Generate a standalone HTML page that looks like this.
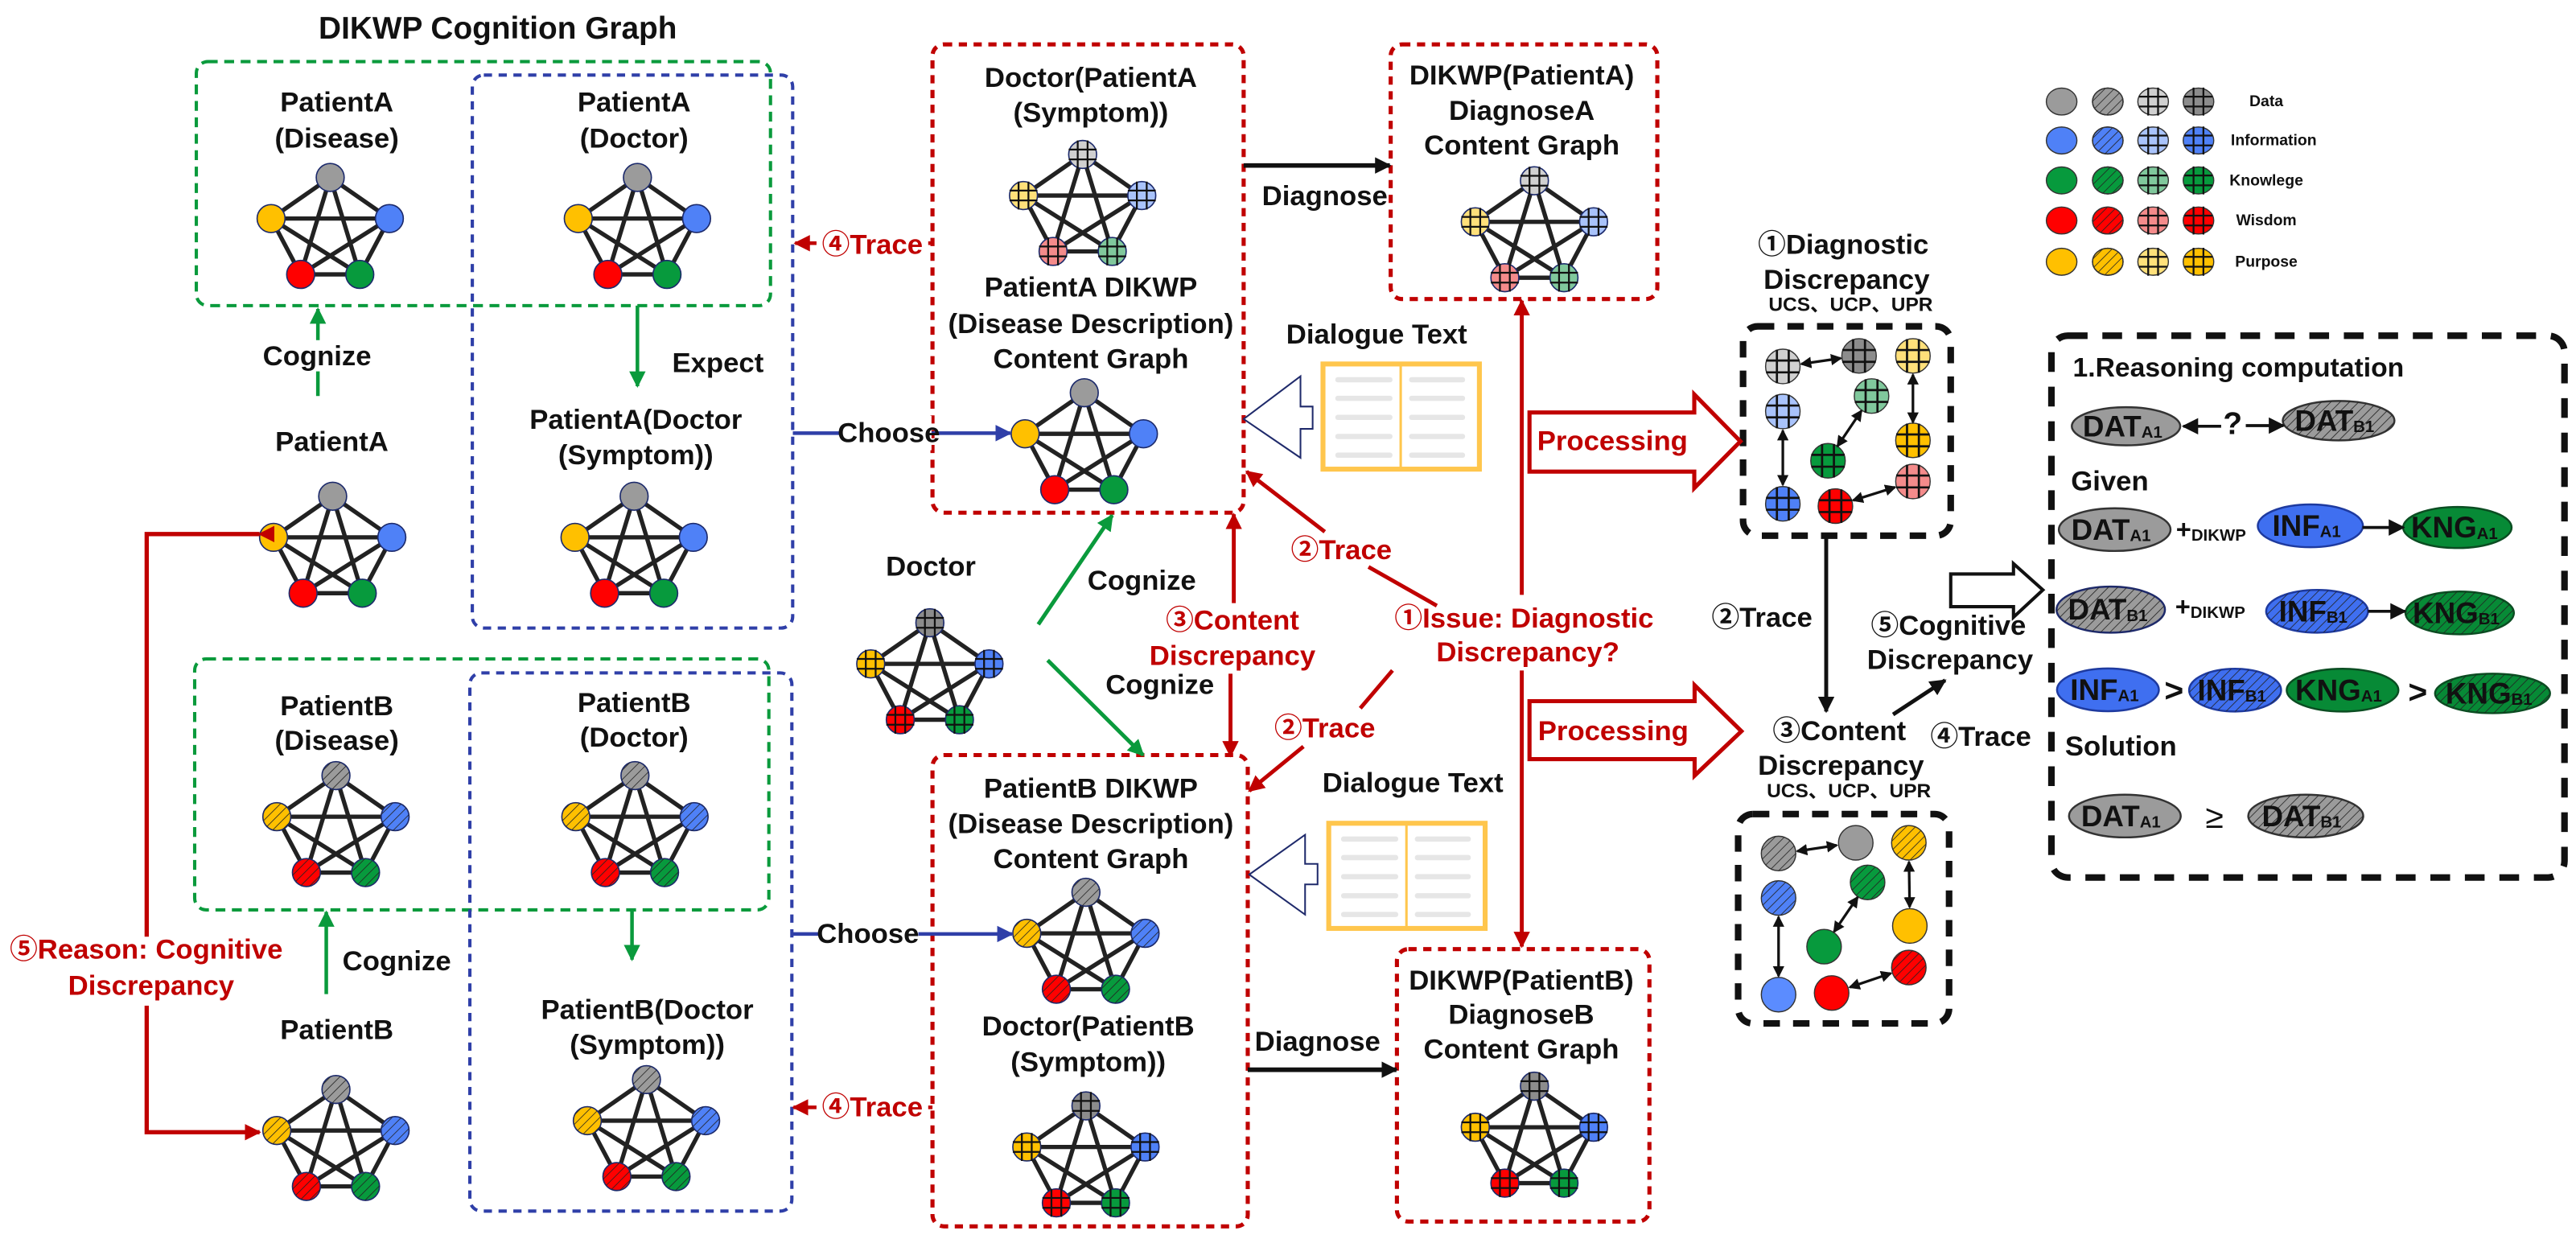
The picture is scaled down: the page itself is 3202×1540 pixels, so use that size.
<!DOCTYPE html>
<html><head><meta charset="utf-8"><style>
html,body{margin:0;padding:0;background:#fff;}
svg{display:block;}
text{font-family:"Liberation Sans","Noto Sans CJK SC",sans-serif;font-weight:bold;dominant-baseline:central;}
.l{font-size:17px;fill:#111;text-anchor:middle;}
.r{font-size:17px;fill:#c00000;text-anchor:middle;}
.s{font-size:12px;fill:#111;text-anchor:middle;}
.lg{font-size:9.5px;fill:#111;text-anchor:middle;}
.e{font-size:18px;fill:#111;text-anchor:middle;}
</style></head><body>
<svg width="3202" height="1540" viewBox="0 0 1568 754" preserveAspectRatio="none" xmlns="http://www.w3.org/2000/svg" xmlns:xlink="http://www.w3.org/1999/xlink">
<defs>
<pattern id="hp" width="4" height="4" patternUnits="userSpaceOnUse" patternTransform="rotate(45)"><line x1="0" y1="0" x2="0" y2="4" stroke="#222" stroke-width="0.8"/></pattern>
<marker id="mr" markerUnits="userSpaceOnUse" markerWidth="10" markerHeight="10" refX="9" refY="5" orient="auto"><path d="M0,0L10,5L0,10z" fill="#c00000"/></marker>
<marker id="mg" markerUnits="userSpaceOnUse" markerWidth="10" markerHeight="10" refX="9" refY="5" orient="auto"><path d="M0,0L10,5L0,10z" fill="#0a9a3c"/></marker>
<marker id="mb" markerUnits="userSpaceOnUse" markerWidth="10" markerHeight="10" refX="9" refY="5" orient="auto"><path d="M0,0L10,5L0,10z" fill="#2f3fa8"/></marker>
<marker id="mk" markerUnits="userSpaceOnUse" markerWidth="10" markerHeight="10" refX="9" refY="5" orient="auto"><path d="M0,0L10,5L0,10z" fill="#111"/></marker>
<marker id="ms" markerUnits="userSpaceOnUse" markerWidth="7" markerHeight="7" refX="6" refY="3.5" orient="auto-start-reverse"><path d="M0,0L7,3.5L0,7z" fill="#111"/></marker>
<g id="G"><path d="M-3,-8.5V8.5M3,-8.5V8.5M-8.5,-3H8.5M-8.5,3H8.5" stroke="#111" stroke-width="1.1" fill="none"/></g>
<g id="E"><path d="M0,0L-36,25L-18,59L18,59L36,25Z M0,0L-18,59 M0,0L18,59 M-36,25L36,25 M-36,25L18,59 M36,25L-18,59" fill="none" stroke="#222" stroke-width="2.6" stroke-linejoin="round"/></g>
<g id="PS"><use href="#E"/>
<g stroke="#1c2a6b" stroke-width="0.8">
<circle cx="0" cy="0" r="8.5" fill="#9b9b9b"/><circle cx="-36" cy="25" r="8.5" fill="#ffc000"/><circle cx="36" cy="25" r="8.5" fill="#4f81f7"/><circle cx="-18" cy="59" r="8.5" fill="#ff0000"/><circle cx="18" cy="59" r="8.5" fill="#079a3d"/></g></g>
<g id="PH"><use href="#PS"/>
<g fill="url(#hp)"><circle cx="0" cy="0" r="8.5"/><circle cx="-36" cy="25" r="8.5"/><circle cx="36" cy="25" r="8.5"/><circle cx="-18" cy="59" r="8.5"/><circle cx="18" cy="59" r="8.5"/></g></g>
<g id="PL"><use href="#E"/>
<g stroke="#1c2a6b" stroke-width="0.8">
<circle cx="0" cy="0" r="8.5" fill="#d0d0d0"/><circle cx="-36" cy="25" r="8.5" fill="#ffe07a"/><circle cx="36" cy="25" r="8.5" fill="#a9c3fb"/><circle cx="-18" cy="59" r="8.5" fill="#f48b8b"/><circle cx="18" cy="59" r="8.5" fill="#80c89c"/></g>
<use href="#G"/><use href="#G" x="-36" y="25"/><use href="#G" x="36" y="25"/><use href="#G" x="-18" y="59"/><use href="#G" x="18" y="59"/></g>
<g id="PD"><use href="#E"/>
<g stroke="#1c2a6b" stroke-width="0.8">
<circle cx="0" cy="0" r="8.5" fill="#8c8c8c"/><circle cx="-36" cy="25" r="8.5" fill="#ffc000"/><circle cx="36" cy="25" r="8.5" fill="#4f81f7"/><circle cx="-18" cy="59" r="8.5" fill="#ff0000"/><circle cx="18" cy="59" r="8.5" fill="#079a3d"/></g>
<use href="#G"/><use href="#G" x="-36" y="25"/><use href="#G" x="36" y="25"/><use href="#G" x="-18" y="59"/><use href="#G" x="18" y="59"/></g>
</defs>

<!-- Title -->
<text x="303" y="17.5" style="font-size:19px;fill:#111;text-anchor:middle">DIKWP Cognition Graph</text>

<!-- Dashed boxes -->
<g fill="none">
<rect x="119.5" y="37.5" width="349.5" height="148.5" rx="7" stroke="#0a9a3c" stroke-width="2" stroke-dasharray="6 4"/>
<rect x="287.5" y="45.7" width="195" height="336.5" rx="7" stroke="#2f3fa8" stroke-width="2" stroke-dasharray="5 4"/>
<rect x="118.5" y="401" width="349.5" height="152.7" rx="7" stroke="#0a9a3c" stroke-width="2" stroke-dasharray="6 4"/>
<rect x="286" y="409.5" width="196" height="327.5" rx="7" stroke="#2f3fa8" stroke-width="2" stroke-dasharray="5 4"/>
<rect x="567.6" y="27" width="189.4" height="285" rx="7" stroke="#c00000" stroke-width="2.5" stroke-dasharray="5 4"/>
<rect x="846.5" y="27" width="162.3" height="155" rx="7" stroke="#c00000" stroke-width="2.5" stroke-dasharray="5 4"/>
<rect x="567.6" y="459.5" width="191.9" height="286.8" rx="7" stroke="#c00000" stroke-width="2.5" stroke-dasharray="5 4"/>
<rect x="850.3" y="577.6" width="153.7" height="165.8" rx="7" stroke="#c00000" stroke-width="2.5" stroke-dasharray="5 4"/>
<rect x="1061" y="198.6" width="126.4" height="127.4" rx="9" stroke="#111" stroke-width="4" stroke-dasharray="10 8"/>
<rect x="1058" y="495.4" width="128.4" height="127.4" rx="9" stroke="#111" stroke-width="4" stroke-dasharray="10 8"/>
<rect x="1248.7" y="204.3" width="312.3" height="329.7" rx="10" stroke="#111" stroke-width="4" stroke-dasharray="12 9"/>
</g>

<!-- Pentagons -->
<use href="#PS" x="201" y="108"/>
<use href="#PS" x="388" y="108"/>
<use href="#PS" x="202.5" y="302"/>
<use href="#PS" x="386" y="302"/>
<use href="#PL" x="659" y="94"/>
<use href="#PS" x="660" y="239"/>
<use href="#PL" x="934" y="110"/>
<use href="#PH" x="204.5" y="472"/>
<use href="#PH" x="386.5" y="472"/>
<use href="#PH" x="204.5" y="663"/>
<use href="#PH" x="393.5" y="657"/>
<use href="#PD" x="566" y="379"/>
<use href="#PH" x="661" y="543"/>
<use href="#PD" x="661" y="673"/>
<use href="#PD" x="934" y="661"/>

<!-- Left labels -->
<text class="l" x="205" y="62.5">PatientA</text><text class="l" x="205" y="84.5">(Disease)</text>
<text class="l" x="386" y="62.5">PatientA</text><text class="l" x="386" y="84.5">(Doctor)</text>
<text class="l" x="193" y="217">Cognize</text>
<text class="l" x="437" y="221">Expect</text>
<text class="l" x="202" y="269">PatientA</text>
<text class="l" x="387" y="255.5">PatientA(Doctor</text><text class="l" x="387" y="277">(Symptom))</text>
<text class="l" x="205" y="430">PatientB</text><text class="l" x="205" y="451">(Disease)</text>
<text class="l" x="386" y="428">PatientB</text><text class="l" x="386" y="449">(Doctor)</text>
<text class="l" x="241.5" y="585">Cognize</text>
<text class="l" x="205" y="627">PatientB</text>
<text class="l" x="394" y="614.6">PatientB(Doctor</text><text class="l" x="394" y="636">(Symptom))</text>

<!-- Left connectors -->
<g fill="none" stroke-width="2.2">
<path d="M193.5,241V226" stroke="#0a9a3c"/>
<path d="M193.5,207V188" stroke="#0a9a3c" marker-end="url(#mg)"/>
<path d="M388,186V235" stroke="#0a9a3c" marker-end="url(#mg)"/>
<path d="M198.6,605V555" stroke="#0a9a3c" marker-end="url(#mg)"/>
<path d="M384.7,554V584" stroke="#0a9a3c" marker-end="url(#mg)"/>
<path d="M158,325H89.3V570" stroke="#c00000" stroke-width="2.6" marker-start="url(#mr)"/>
<path d="M89.3,612V689H158" stroke="#c00000" stroke-width="2.6" marker-end="url(#mr)"/>
<path d="M482.6,263.6H615" stroke="#2f3fa8" marker-end="url(#mb)"/>
<path d="M482,568.4H616" stroke="#2f3fa8" marker-end="url(#mb)"/>
<path d="M567.6,148H484" stroke="#c00000" marker-end="url(#mr)"/>
<path d="M567.6,673.9H483" stroke="#c00000" marker-end="url(#mr)"/>
</g>
<g fill="#fff">
<rect x="511" y="253" width="56" height="21"/>
<rect x="499" y="558" width="60" height="21"/>
<rect x="497" y="138" width="68" height="21"/>
<rect x="497" y="664" width="68" height="21"/>
</g>
<text class="l" x="541" y="263.6">Choose</text>
<text class="l" x="528.3" y="568.4">Choose</text>
<text class="r" x="531" y="149">④Trace</text>
<text class="r" x="531" y="673.9">④Trace</text>
<text class="r" x="89" y="578">⑤Reason: Cognitive</text>
<text class="r" x="92" y="600">Discrepancy</text>

<!-- Middle labels -->
<text class="l" x="664" y="47.5">Doctor(PatientA</text><text class="l" x="664" y="68.7">(Symptom))</text>
<text class="l" x="664" y="175">PatientA DIKWP</text><text class="l" x="664" y="197.4">(Disease Description)</text><text class="l" x="664" y="218.6">Content Graph</text>
<text class="l" x="926.3" y="46">DIKWP(PatientA)</text><text class="l" x="926.3" y="67.5">DiagnoseA</text><text class="l" x="926.3" y="88.7">Content Graph</text>
<text class="l" x="806.4" y="119.4">Diagnose</text>
<text class="l" x="838" y="203.6">Dialogue Text</text>
<text class="l" x="566.6" y="345">Doctor</text>
<text class="l" x="695" y="353.6">Cognize</text>
<text class="l" x="706" y="417">Cognize</text>
<text class="l" x="664" y="480">PatientB DIKWP</text><text class="l" x="664" y="501.5">(Disease Description)</text><text class="l" x="664" y="523">Content Graph</text>
<text class="l" x="662.4" y="624.8">Doctor(PatientB</text><text class="l" x="662.4" y="646.6">(Symptom))</text>
<text class="l" x="860" y="476.6">Dialogue Text</text>
<text class="l" x="802" y="634">Diagnose</text>
<text class="l" x="926" y="596.8">DIKWP(PatientB)</text><text class="l" x="926" y="617.7">DiagnoseB</text><text class="l" x="926" y="638.7">Content Graph</text>
<text class="r" x="750.2" y="377.7">③Content</text><text class="r" x="750.2" y="399.2">Discrepancy</text>
<text class="r" x="816.5" y="335">②Trace</text>
<text class="r" x="806.4" y="443.3">②Trace</text>
<text class="r" x="927.7" y="376.4">①Issue: Diagnostic</text><text class="r" x="930" y="397">Discrepancy?</text>

<!-- Middle connectors -->
<g fill="none" stroke-width="2.4">
<path d="M757,100.7H846" stroke="#111" stroke-width="2.8" marker-end="url(#mk)"/>
<path d="M759.5,651H850" stroke="#111" stroke-width="2.8" marker-end="url(#mk)"/>
<path d="M751,367V313" stroke="#c00000" marker-end="url(#mr)"/>
<path d="M749,410V460" stroke="#c00000" marker-end="url(#mr)"/>
<path d="M874.6,368.6L833,345" stroke="#c00000"/>
<path d="M806.4,323.6L758.8,287" stroke="#c00000" marker-end="url(#mr)"/>
<path d="M847.6,408L828,431" stroke="#c00000"/>
<path d="M793.4,454.3L760.4,481.3" stroke="#c00000" marker-end="url(#mr)"/>
<path d="M926.3,362V183" stroke="#c00000" marker-end="url(#mr)"/>
<path d="M926.3,408V576" stroke="#c00000" marker-end="url(#mr)"/>
<path d="M632,380L677,313.6" stroke="#0a9a3c" marker-end="url(#mg)"/>
<path d="M637.7,401.8L695.8,459.5" stroke="#0a9a3c" marker-end="url(#mg)"/>
</g>

<!-- Documents -->
<g>
<rect x="805.3" y="221.5" width="95.2" height="64" fill="#fff" stroke="#ffc64d" stroke-width="3"/>
<line x1="852.6" y1="221.5" x2="852.6" y2="285.5" stroke="#ffc64d" stroke-width="1.5"/>
<g fill="#e6e6e6">
<rect x="812.8" y="229.5" width="34.8" height="3.2" rx="1.5"/><rect x="857.7" y="229.5" width="34.1" height="3.2" rx="1.5"/>
<rect x="812.8" y="240.8" width="34.8" height="3.2" rx="1.5"/><rect x="857.7" y="240.8" width="34.1" height="3.2" rx="1.5"/>
<rect x="812.8" y="252.4" width="34.8" height="3.2" rx="1.5"/><rect x="857.7" y="252.4" width="34.1" height="3.2" rx="1.5"/>
<rect x="812.8" y="264" width="34.8" height="3.2" rx="1.5"/><rect x="857.7" y="264" width="34.1" height="3.2" rx="1.5"/>
<rect x="812.8" y="275.4" width="34.8" height="3.2" rx="1.5"/><rect x="857.7" y="275.4" width="34.1" height="3.2" rx="1.5"/>
</g></g>
<g transform="translate(3.5,279.5)">
<rect x="805.3" y="221.5" width="95.2" height="64" fill="#fff" stroke="#ffc64d" stroke-width="3"/>
<line x1="852.6" y1="221.5" x2="852.6" y2="285.5" stroke="#ffc64d" stroke-width="1.5"/>
<g fill="#e6e6e6">
<rect x="812.8" y="229.5" width="34.8" height="3.2" rx="1.5"/><rect x="857.7" y="229.5" width="34.1" height="3.2" rx="1.5"/>
<rect x="812.8" y="240.8" width="34.8" height="3.2" rx="1.5"/><rect x="857.7" y="240.8" width="34.1" height="3.2" rx="1.5"/>
<rect x="812.8" y="252.4" width="34.8" height="3.2" rx="1.5"/><rect x="857.7" y="252.4" width="34.1" height="3.2" rx="1.5"/>
<rect x="812.8" y="264" width="34.8" height="3.2" rx="1.5"/><rect x="857.7" y="264" width="34.1" height="3.2" rx="1.5"/>
<rect x="812.8" y="275.4" width="34.8" height="3.2" rx="1.5"/><rect x="857.7" y="275.4" width="34.1" height="3.2" rx="1.5"/>
</g></g>
<!-- Hollow arrows -->
<polygon points="757,255 791.6,229 791.6,247.4 799,247.4 799,261 791.6,261 791.6,278.6" fill="#fff" stroke="#1f2a6b" stroke-width="1"/>
<polygon points="760.4,532.2 794.4,508 794.4,525.7 802,525.7 802,538.2 794.4,538.2 794.4,556.6" fill="#fff" stroke="#1f2a6b" stroke-width="1"/>
<polygon points="931,251 1031.3,251 1031.3,240 1059.4,268.6 1031.3,297 1031.3,287 931,287" fill="#fff" stroke="#c00000" stroke-width="2.5"/>
<polygon points="931,426.7 1031.5,426.7 1031.5,417 1060,445 1031.5,472 1031.5,462 931,462" fill="#fff" stroke="#c00000" stroke-width="2.5"/>
<text class="r" x="981.5" y="268.6">Processing</text>
<text class="r" x="982" y="445">Processing</text>
<polygon points="1187.4,349.3 1225.6,349.3 1225.6,343 1243.5,359 1225.6,375.6 1225.6,369.2 1187.4,369.2" fill="#fff" stroke="#111" stroke-width="2"/>

<!-- Legend -->
<g stroke="#333" stroke-width="0.7">
<ellipse cx="1254.9" cy="61.8" rx="9.3" ry="8.2" fill="#9b9b9b"/><ellipse cx="1283" cy="61.8" rx="9.3" ry="8.2" fill="#9b9b9b"/><ellipse cx="1283" cy="61.8" rx="9.3" ry="8.2" fill="url(#hp)"/><ellipse cx="1310.6" cy="61.8" rx="9.3" ry="8.2" fill="#d0d0d0"/><ellipse cx="1338.2" cy="61.8" rx="9.3" ry="8.2" fill="#8c8c8c"/>
<ellipse cx="1254.9" cy="85.5" rx="9.3" ry="8.2" fill="#4f81f7"/><ellipse cx="1283" cy="85.5" rx="9.3" ry="8.2" fill="#4f81f7"/><ellipse cx="1283" cy="85.5" rx="9.3" ry="8.2" fill="url(#hp)"/><ellipse cx="1310.6" cy="85.5" rx="9.3" ry="8.2" fill="#a9c3fb"/><ellipse cx="1338.2" cy="85.5" rx="9.3" ry="8.2" fill="#4f81f7"/>
<ellipse cx="1254.9" cy="109.8" rx="9.3" ry="8.2" fill="#079a3d"/><ellipse cx="1283" cy="109.8" rx="9.3" ry="8.2" fill="#079a3d"/><ellipse cx="1283" cy="109.8" rx="9.3" ry="8.2" fill="url(#hp)"/><ellipse cx="1310.6" cy="109.8" rx="9.3" ry="8.2" fill="#80c89c"/><ellipse cx="1338.2" cy="109.8" rx="9.3" ry="8.2" fill="#079a3d"/>
<ellipse cx="1254.9" cy="134.2" rx="9.3" ry="8.2" fill="#ff0000"/><ellipse cx="1283" cy="134.2" rx="9.3" ry="8.2" fill="#ff0000"/><ellipse cx="1283" cy="134.2" rx="9.3" ry="8.2" fill="url(#hp)"/><ellipse cx="1310.6" cy="134.2" rx="9.3" ry="8.2" fill="#f48b8b"/><ellipse cx="1338.2" cy="134.2" rx="9.3" ry="8.2" fill="#ff0000"/>
<ellipse cx="1254.9" cy="159.3" rx="9.3" ry="8.2" fill="#ffc000"/><ellipse cx="1283" cy="159.3" rx="9.3" ry="8.2" fill="#ffc000"/><ellipse cx="1283" cy="159.3" rx="9.3" ry="8.2" fill="url(#hp)"/><ellipse cx="1310.6" cy="159.3" rx="9.3" ry="8.2" fill="#ffe07a"/><ellipse cx="1338.2" cy="159.3" rx="9.3" ry="8.2" fill="#ffc000"/>
</g>
<use href="#G" x="1310.6" y="61.8"/><use href="#G" x="1338.2" y="61.8"/>
<use href="#G" x="1310.6" y="85.5"/><use href="#G" x="1338.2" y="85.5"/>
<use href="#G" x="1310.6" y="109.8"/><use href="#G" x="1338.2" y="109.8"/>
<use href="#G" x="1310.6" y="134.2"/><use href="#G" x="1338.2" y="134.2"/>
<use href="#G" x="1310.6" y="159.3"/><use href="#G" x="1338.2" y="159.3"/>
<text class="lg" x="1379.5" y="61.8">Data</text>
<text class="lg" x="1384" y="85.5">Information</text>
<text class="lg" x="1379.5" y="109.8">Knowlege</text>
<text class="lg" x="1379.5" y="134.2">Wisdom</text>
<text class="lg" x="1379.5" y="159.3">Purpose</text>

<!-- Right discrepancy labels -->
<text class="l" x="1122" y="149">①Diagnostic</text>
<text class="l" x="1124" y="170.5">Discrepancy</text>
<text class="s" x="1126.5" y="185.5">UCS、UCP、UPR</text>
<text class="l" x="1072.5" y="376">②Trace</text>
<text class="l" x="1186" y="381">⑤Cognitive</text>
<text class="l" x="1187" y="401.8">Discrepancy</text>
<text class="l" x="1119.6" y="445">③Content</text>
<text class="l" x="1120.6" y="466">Discrepancy</text>
<text class="s" x="1125.4" y="481.6">UCS、UCP、UPR</text>
<text class="l" x="1205.7" y="448.6">④Trace</text>
<g fill="none" stroke="#111" stroke-width="2.4">
<path d="M1111.6,326V433" marker-end="url(#mk)"/>
<path d="M1152.3,434.8L1184,414" marker-end="url(#mk)"/>
</g>

<!-- D1 nodes -->
<g stroke="#333" stroke-width="0.7">
<circle cx="1085.2" cy="223" r="10.5" fill="#d0d0d0"/>
<circle cx="1131.6" cy="216.6" r="10.5" fill="#8c8c8c"/>
<circle cx="1164.4" cy="216.6" r="10.5" fill="#ffe07a"/>
<circle cx="1085.2" cy="250.4" r="10.5" fill="#a9c3fb"/>
<circle cx="1139.2" cy="241" r="10.5" fill="#80c89c"/>
<circle cx="1164.4" cy="268" r="10.5" fill="#ffc000"/>
<circle cx="1112.7" cy="280.4" r="10.5" fill="#079a3d"/>
<circle cx="1085.2" cy="306.6" r="10.5" fill="#4f81f7"/>
<circle cx="1117.2" cy="308" r="10.5" fill="#ff0000"/>
<circle cx="1164.4" cy="293" r="10.5" fill="#f48b8b"/>
</g>
<use href="#G" transform="translate(1085.2 223) scale(1.2)"/>
<use href="#G" transform="translate(1131.6 216.6) scale(1.2)"/>
<use href="#G" transform="translate(1164.4 216.6) scale(1.2)"/>
<use href="#G" transform="translate(1085.2 250.4) scale(1.2)"/>
<use href="#G" transform="translate(1139.2 241) scale(1.2)"/>
<use href="#G" transform="translate(1164.4 268) scale(1.2)"/>
<use href="#G" transform="translate(1112.7 280.4) scale(1.2)"/>
<use href="#G" transform="translate(1085.2 306.6) scale(1.2)"/>
<use href="#G" transform="translate(1117.2 308) scale(1.2)"/>
<use href="#G" transform="translate(1164.4 293) scale(1.2)"/>
<g fill="none" stroke="#111" stroke-width="1.6" marker-start="url(#ms)" marker-end="url(#ms)">
<path d="M1096.5,221.5L1120.5,218"/>
<path d="M1164.4,228V257"/>
<path d="M1085.2,262V295"/>
<path d="M1133,250L1118.5,271.5"/>
<path d="M1128,304.5L1153.5,296.5"/>
</g>

<!-- D2 nodes -->
<g stroke="#333" stroke-width="0.7">
<circle cx="1082.6" cy="519.4" r="10.5" fill="#9b9b9b"/>
<circle cx="1129.6" cy="512.9" r="10.5" fill="#9b9b9b"/>
<circle cx="1161.9" cy="512.9" r="10.5" fill="#ffc000"/>
<circle cx="1136.8" cy="537" r="10.5" fill="#079a3d"/>
<circle cx="1082.6" cy="546.5" r="10.5" fill="#4f81f7"/>
<circle cx="1162.5" cy="563.5" r="10.5" fill="#ffc000"/>
<circle cx="1110.3" cy="576.1" r="10.5" fill="#079a3d"/>
<circle cx="1161.9" cy="588.8" r="10.5" fill="#ff0000"/>
<circle cx="1082.6" cy="605.3" r="10.5" fill="#5b8cff"/>
<circle cx="1114.9" cy="604.3" r="10.5" fill="#ff0000"/>
</g>
<g fill="url(#hp)">
<circle cx="1082.6" cy="519.4" r="10.5"/>
<circle cx="1161.9" cy="512.9" r="10.5"/>
<circle cx="1136.8" cy="537" r="10.5"/>
<circle cx="1082.6" cy="546.5" r="10.5"/>
<circle cx="1161.9" cy="588.8" r="10.5"/>
</g>
<g fill="none" stroke="#111" stroke-width="1.6" marker-start="url(#ms)" marker-end="url(#ms)">
<path d="M1094,518L1118,514.4"/>
<path d="M1162,524.5L1162.4,552"/>
<path d="M1130.7,546L1116.4,567"/>
<path d="M1082.6,558V594"/>
<path d="M1126,600.8L1151,592.3"/>
</g>

<!-- Big box -->
<text x="1261.7" y="224" style="font-size:16.5px;fill:#111">1.Reasoning computation</text>
<text x="1260.6" y="293" style="font-size:17px;fill:#111">Given</text>
<text x="1257" y="454.3" style="font-size:17px;fill:#111">Solution</text>

<g stroke-width="1.2">
<!-- row1 -->
<ellipse cx="1294.1" cy="259.4" rx="33" ry="11.6" fill="#9b9b9b" stroke="#333"/>
<ellipse cx="1423.5" cy="256" rx="34" ry="12" fill="#9b9b9b" stroke="#333"/><ellipse cx="1423.5" cy="256" rx="34" ry="12" fill="url(#hp)" stroke="none"/>
<!-- row2 -->
<ellipse cx="1287.2" cy="322.3" rx="34" ry="13" fill="#9b9b9b" stroke="#333"/>
<ellipse cx="1406.3" cy="320" rx="32" ry="13" fill="#3f6ff0" stroke="#1e3a9f"/>
<ellipse cx="1495.8" cy="321" rx="33" ry="12.5" fill="#078a36" stroke="#0b4d22"/>
<!-- row3 -->
<ellipse cx="1284.8" cy="371" rx="33" ry="14" fill="#9b9b9b" stroke="#1e2a6b"/><ellipse cx="1284.8" cy="371" rx="33" ry="14" fill="url(#hp)" stroke="none"/>
<ellipse cx="1410.4" cy="372" rx="31" ry="13" fill="#3f6ff0" stroke="#1e3a9f"/><ellipse cx="1410.4" cy="372" rx="31" ry="13" fill="url(#hp)" stroke="none"/>
<ellipse cx="1497.2" cy="373" rx="33" ry="13" fill="#078a36" stroke="#0b4d22"/><ellipse cx="1497.2" cy="373" rx="33" ry="13" fill="url(#hp)" stroke="none"/>
<!-- row4 -->
<ellipse cx="1283.1" cy="419.8" rx="31" ry="13" fill="#3f6ff0" stroke="#1e3a9f"/>
<ellipse cx="1360.5" cy="420" rx="28" ry="13" fill="#3f6ff0" stroke="#1e3a9f"/><ellipse cx="1360.5" cy="420" rx="28" ry="13" fill="url(#hp)" stroke="none"/>
<ellipse cx="1425.9" cy="420" rx="34" ry="13" fill="#078a36" stroke="#0b4d22"/>
<ellipse cx="1517.2" cy="422" rx="35" ry="12" fill="#078a36" stroke="#0b4d22"/><ellipse cx="1517.2" cy="422" rx="35" ry="12" fill="url(#hp)" stroke="none"/>
<!-- row5 -->
<ellipse cx="1293.4" cy="496.6" rx="34" ry="13" fill="#9b9b9b" stroke="#333"/>
<ellipse cx="1403.5" cy="496.6" rx="35" ry="13" fill="#9b9b9b" stroke="#333"/><ellipse cx="1403.5" cy="496.6" rx="35" ry="13" fill="url(#hp)" stroke="none"/>
</g>
<g fill="none" stroke="#111" stroke-width="1.8">
<path d="M1352,259.4H1329" marker-end="url(#mk)"/>
<path d="M1367,259H1390" marker-end="url(#mk)"/>
<path d="M1438,321H1463" marker-end="url(#mk)"/>
<path d="M1441.4,372H1464" marker-end="url(#mk)"/>
</g>
<text class="e" x="1292" y="259.4">DAT<tspan style="font-size:10px" dy="4">A1</tspan></text>
<text class="e" x="1359" y="258" style="font-size:19px">?</text>
<text class="e" x="1421" y="256">DAT<tspan style="font-size:10px" dy="4">B1</tspan></text>
<text class="e" x="1285" y="322.3">DAT<tspan style="font-size:10px" dy="4">A1</tspan></text>
<text x="1324.5" y="322" style="font-size:16px;fill:#111">+<tspan style="font-size:10px" dy="4">DIKWP</tspan></text>
<text class="e" x="1404" y="320">INF<tspan style="font-size:10px" dy="4">A1</tspan></text>
<text class="e" x="1494" y="321">KNG<tspan style="font-size:10px" dy="4">A1</tspan></text>
<text class="e" x="1283" y="371">DAT<tspan style="font-size:10px" dy="4">B1</tspan></text>
<text x="1324" y="369" style="font-size:16px;fill:#111">+<tspan style="font-size:10px" dy="4">DIKWP</tspan></text>
<text class="e" x="1408" y="372">INF<tspan style="font-size:10px" dy="4">B1</tspan></text>
<text class="e" x="1495" y="373">KNG<tspan style="font-size:10px" dy="4">B1</tspan></text>
<text class="e" x="1281" y="419.8">INF<tspan style="font-size:10px" dy="4">A1</tspan></text>
<text class="e" x="1323.3" y="420" style="font-size:20px">&gt;</text>
<text class="e" x="1358.5" y="420">INF<tspan style="font-size:10px" dy="4">B1</tspan></text>
<text class="e" x="1423.5" y="420">KNG<tspan style="font-size:10px" dy="4">A1</tspan></text>
<text class="e" x="1471.7" y="421" style="font-size:20px">&gt;</text>
<text class="e" x="1515" y="422">KNG<tspan style="font-size:10px" dy="4">B1</tspan></text>
<text class="e" x="1291" y="496.6">DAT<tspan style="font-size:10px" dy="4">A1</tspan></text>
<text class="e" x="1348" y="497" style="font-size:20px;font-weight:normal">≥</text>
<text class="e" x="1401" y="496.6">DAT<tspan style="font-size:10px" dy="4">B1</tspan></text>
</svg>
</body></html>
